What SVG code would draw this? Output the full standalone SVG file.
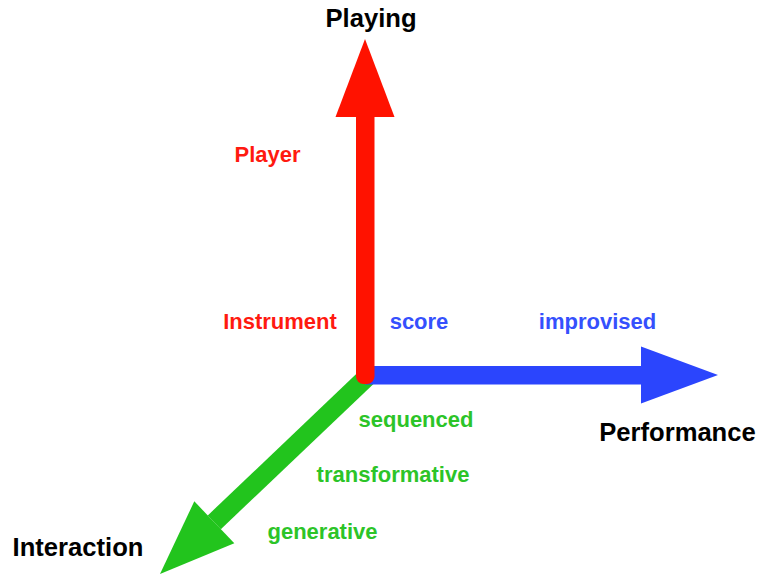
<svg xmlns="http://www.w3.org/2000/svg" width="758" height="575" viewBox="0 0 758 575">
  <style>
    .axis-title { font-family: "Liberation Sans", Arial, sans-serif; font-weight: bold; font-size: 25.6px; fill: #000; text-anchor: middle; }
    .tick { font-family: "Liberation Sans", Arial, sans-serif; font-weight: bold; font-size: 22px; text-anchor: middle; }
    .red { fill: #ff1200; }
    .blue { fill: #2b45fd; }
    .green { fill: #22c41d; }
    .t-red { fill: #ff1a10; }
    .t-blue { fill: #3550fd; }
    .t-green { fill: #2cc428; }
  </style>
  <rect width="758" height="575" fill="#ffffff"/>

  <!-- three axes drawn from a shared origin -->
  <g id="connectors">
    <!-- Interaction axis (down-left) -->
    <g id="axis-interaction">
      <line x1="368" y1="376" x2="214.3" y2="522.3" stroke="#22c41d" stroke-width="19"/>
      <polygon class="green" points="160,574 194.3,501.3 234.3,543.3"/>
    </g>
    <!-- Performance axis (right) -->
    <g id="axis-performance">
      <rect class="blue" x="365" y="366" width="278" height="18.5"/>
      <polygon class="blue" points="641,346.5 718,375 641,403.5"/>
    </g>
    <!-- Playing axis (up) -->
    <g id="axis-playing">
      <rect class="red" x="356" y="110" width="18.5" height="274" rx="7.5"/>
      <polygon class="red" points="365,39 335.5,117 394.5,117"/>
    </g>
  </g>

  <g id="node-playing"><text class="axis-title" x="371" y="27">Playing</text></g>
  <g id="node-performance"><text class="axis-title" x="677.5" y="441">Performance</text></g>
  <g id="node-interaction"><text class="axis-title" x="78" y="556">Interaction</text></g>

  <g id="node-player"><text class="tick t-red" x="267.5" y="162">Player</text></g>
  <g id="node-instrument"><text class="tick t-red" x="280" y="329">Instrument</text></g>

  <g id="node-score"><text class="tick t-blue" x="419" y="329">score</text></g>
  <g id="node-improvised"><text class="tick t-blue" x="597.5" y="329">improvised</text></g>

  <g id="node-sequenced"><text class="tick t-green" x="416" y="427">sequenced</text></g>
  <g id="node-transformative"><text class="tick t-green" x="393" y="482">transformative</text></g>
  <g id="node-generative"><text class="tick t-green" x="322.5" y="539">generative</text></g>
</svg>
